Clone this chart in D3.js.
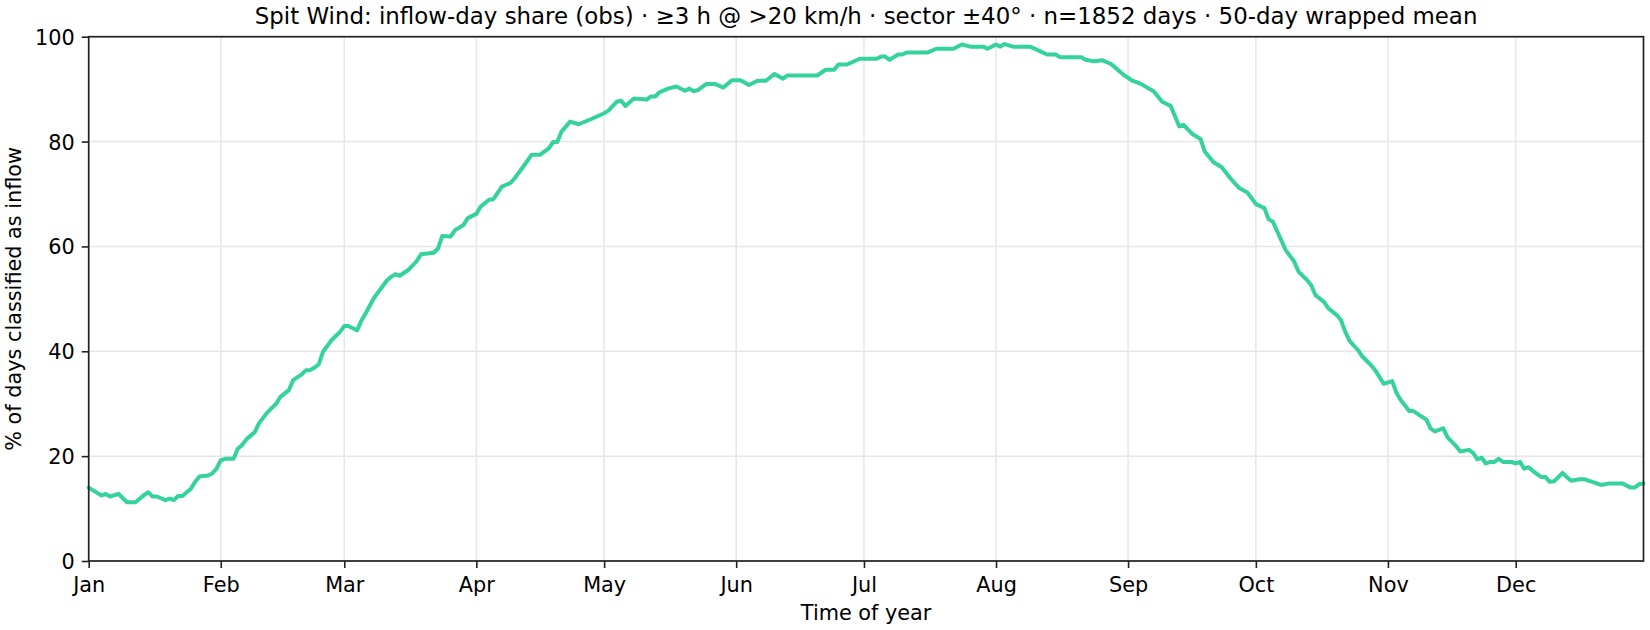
<!DOCTYPE html>
<html>
<head>
    <meta http-equiv="content-type" content="text/html; charset=utf-8"/>
    <title>Spit Wind - inflow-day share</title>
    <style type="text/css">
        body, html {width: 100%;height: 100%;overflow: hidden;margin:0;background:#fff;font-family:"DejaVu Sans";}
        #chart {width:1650px;height:630px;}
    </style>
    <script src="https://cdn.jsdelivr.net/npm/d3@7/dist/d3.min.js" charset="utf-8"></script>
</head>
<body>
<div id="chart"></div>
<script>
    // day of year (0 = Jan 1) and share of inflow days
    var dayOfYear = [0,2,3,4,5,7,9,11,13,14,15,16,18,19,20,21,22,23,24,25,26,28,29,30,31,32,34,35,36,37,39,40,42,44,45,47,48,50,51,52,53,54,55,56,57,59,60,61,62,63,64,65,67,70,71,72,73,75,77,78,81,82,83,85,86,88,89,91,92,94,95,97,99,100,102,104,106,108,109,110,111,113,115,118,121,122,124,125,126,128,131,132,133,134,136,138,140,141,142,143,145,147,149,151,153,155,157,159,161,163,164,171,173,175,176,178,181,185,186,187,188,190,191,192,197,199,203,205,207,210,211,213,214,215,217,221,225,227,228,233,234,236,238,240,243,245,247,250,252,254,256,257,259,261,262,264,266,268,269,270,272,274,276,277,278,281,283,284,286,287,288,290,291,293,294,295,296,298,299,300,301,302,304,306,307,308,310,311,313,314,315,316,318,319,321,322,324,325,326,327,328,329,330,331,332,334,335,336,337,338,339,341,342,343,344,346,347,348,350,351,353,355,357,360,362,363,364,365];
    var inflowPct = [14.0,13.0,12.5,12.8,12.3,12.8,11.2,11.2,12.6,13.1,12.3,12.3,11.6,11.9,11.6,12.4,12.4,13.1,13.8,15.1,16.1,16.3,16.7,17.6,19.2,19.5,19.5,21.4,22.1,23.2,24.6,26.3,28.4,30.0,31.3,32.6,34.5,35.6,36.4,36.4,36.9,37.5,39.9,41.0,42.1,43.7,44.8,44.8,44.4,44.0,45.8,47.2,50.2,53.5,54.2,54.7,54.4,55.5,57.2,58.5,58.8,59.6,62.0,61.9,63.1,64.1,65.4,66.2,67.6,68.9,69.0,71.4,72.1,73.0,75.2,77.5,77.5,78.7,79.9,79.9,81.9,83.8,83.3,84.3,85.4,85.9,87.6,87.8,86.8,88.2,88.0,88.6,88.6,89.4,90.1,90.5,89.7,90.1,89.6,89.8,91.0,91.0,90.3,91.7,91.7,90.8,91.6,91.6,92.9,92.0,92.6,92.6,93.7,93.7,94.7,94.7,95.8,95.8,96.2,96.2,95.6,96.6,96.6,97.0,97.0,97.7,97.7,98.5,98.1,98.1,97.7,98.5,98.1,98.6,98.1,98.1,96.6,96.6,96.1,96.1,95.6,95.3,95.5,94.8,92.7,91.6,91.0,89.6,87.6,86.8,82.9,83.2,81.5,80.5,78.1,76.1,75.1,73.0,72.1,71.2,70.3,68.1,67.3,65.2,64.7,59.3,57.1,55.2,53.6,52.6,50.7,49.4,48.2,46.9,45.9,43.7,42.0,40.2,39.0,38.2,37.4,36.4,33.8,34.3,32.1,30.7,28.6,28.6,27.5,27.0,25.3,24.7,25.3,23.6,21.9,20.9,21.2,20.6,19.4,19.7,18.6,18.9,18.9,19.5,18.9,18.9,18.6,18.9,17.6,17.9,17.2,16.0,16.0,15.1,15.2,16.8,16.0,15.3,15.6,15.6,15.1,14.5,14.8,14.8,14.0,14.0,14.7,14.8];
    var yTicks = [0, 20, 40, 60, 80, 100];
    var titleText = "Spit Wind: inflow-day share (obs) \u00b7 \u22653 h @ >20 km/h \u00b7 sector \u00b140\u00b0 \u00b7 n=1852 days \u00b7 50-day wrapped mean";
    var xLabel = "Time of year";
    var yLabel = "% of days classified as inflow";

    var width = 1650, height = 630;
    var margin = {top: 36.7, right: 6.5, bottom: 69, left: 88.7};
    var yearStart = new Date(2020, 0, 1);

    var data = dayOfYear.map(function (d, i) {
        return {date: d3.timeDay.offset(yearStart, d), value: inflowPct[i]};
    });

    var svg = d3.select('#chart').append('svg')
        .attr('width', width).attr('height', height)
        .style('font-family', '"DejaVu Sans", sans-serif');

    var x = d3.scaleTime()
        .domain([yearStart, new Date(2020, 11, 31)])
        .range([margin.left, width - margin.right]);
    var y = d3.scaleLinear()
        .domain([0, 100])
        .range([height - margin.bottom, margin.top]);

    var monthTicks = d3.timeMonth.range(yearStart, new Date(2020, 11, 31));

    // grid
    svg.append('g').selectAll('line.vg').data(monthTicks).enter()
        .append('line').attr('class', 'vg')
        .attr('x1', function (d) { return x(d); }).attr('x2', function (d) { return x(d); })
        .attr('y1', y(0)).attr('y2', y(100))
        .attr('stroke', '#e6e6e6').attr('stroke-width', 1.5);
    svg.append('g').selectAll('line.hg').data(yTicks).enter()
        .append('line').attr('class', 'hg')
        .attr('x1', x.range()[0]).attr('x2', x.range()[1])
        .attr('y1', function (d) { return y(d); }).attr('y2', function (d) { return y(d); })
        .attr('stroke', '#e6e6e6').attr('stroke-width', 1.5);

    // the curve
    var line = d3.line()
        .x(function (d) { return x(d.date); })
        .y(function (d) { return y(d.value); });
    svg.append('path').datum(data)
        .attr('d', line)
        .attr('fill', 'none')
        .attr('stroke', '#34d399')
        .attr('stroke-width', 4)
        .attr('stroke-linejoin', 'round')
        .attr('stroke-linecap', 'round');

    // axes
    var xAxis = d3.axisBottom(x).tickValues(monthTicks).tickFormat(d3.timeFormat('%b'))
        .tickSize(7).tickPadding(7);
    var yAxis = d3.axisLeft(y).tickValues(yTicks).tickSize(7).tickPadding(7);

    var gx = svg.append('g').attr('transform', 'translate(0,' + y(0) + ')').call(xAxis);
    var gy = svg.append('g').attr('transform', 'translate(' + margin.left + ',0)').call(yAxis);
    [gx, gy].forEach(function (g) {
        g.select('.domain').remove();
        g.selectAll('.tick line').attr('stroke', '#222').attr('stroke-width', 1.6);
        g.selectAll('.tick text').attr('fill', '#000')
            .style('font-size', '20.8px').style('font-family', '"DejaVu Sans"');
    });
    gx.selectAll('.tick text').attr('dy', null).attr('y', 30.7);
    gy.selectAll('.tick text').attr('dy', '0.36em');

    // frame
    svg.append('rect')
        .attr('x', x.range()[0]).attr('y', y(100))
        .attr('width', x.range()[1] - x.range()[0]).attr('height', y(0) - y(100))
        .attr('fill', 'none').attr('stroke', '#222').attr('stroke-width', 1.7);

    svg.append('text')
        .attr('x', (x.range()[0] + x.range()[1]) / 2).attr('y', 24)
        .attr('text-anchor', 'middle').style('font-size', '22.9px')
        .text(titleText);
    svg.append('text')
        .attr('x', (x.range()[0] + x.range()[1]) / 2).attr('y', 620)
        .attr('text-anchor', 'middle').style('font-size', '20.8px')
        .text(xLabel);
    svg.append('text')
        .attr('transform', 'translate(21,' + (y(0) + y(100)) / 2 + ') rotate(-90)')
        .attr('text-anchor', 'middle').style('font-size', '20.8px')
        .text(yLabel);
</script>
</body>
</html>
